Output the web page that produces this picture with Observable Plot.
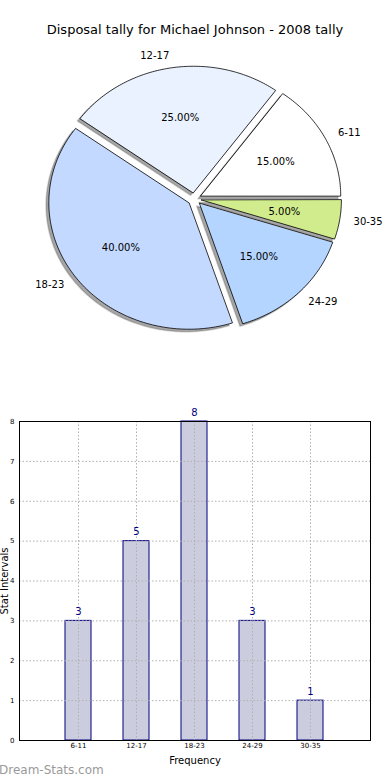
<!DOCTYPE html>
<html><head><meta charset="utf-8">
<script src="https://cdn.jsdelivr.net/npm/d3@7"></script>
<script src="https://cdn.jsdelivr.net/npm/@observablehq/plot@0.6"></script>
<style>
body{margin:0;background:#fff;font-family:"DejaVu Sans",sans-serif;}
#wrap{position:relative;width:390px;height:780px;overflow:hidden;background:#fff;}
#title{position:absolute;left:0;top:21px;width:390px;text-align:center;font-size:13px;line-height:18px;color:#000;}
#pie{position:absolute;left:0;top:0;}
#bar{position:absolute;left:0;top:380px;}
#wm{position:absolute;left:-1px;top:763px;font-size:12px;line-height:14px;color:#9a9a9a;}
svg{overflow:visible;}
</style></head><body>
<div id="wrap">
<div id="pie"></div>
<div id="title">Disposal tally for Michael Johnson - 2008 tally</div>
<div id="bar"></div>
<div id="wm">Dream-Stats.com</div>
</div>
<script>
const categories = ["6-11", "12-17", "18-23", "24-29", "30-35"];
const counts = [3, 5, 8, 3, 1];
const pieColors = ["#ffffff", "#eaf2ff", "#c4d9ff", "#b4d5ff", "#d0ec8c"];
const yTicks = [0, 1, 2, 3, 4, 5, 6, 7, 8];
const explode = 0.05, labelDist = 1.1, pctDist = 0.6, shadowOff = 0.02;

const total = d3.sum(counts);
let acc = 0;
const wedges = categories.map((c, i) => {
  const f = counts[i] / total;
  const a0 = acc * 2 * Math.PI; acc += f; const a1 = acc * 2 * Math.PI;
  const am = (a0 + a1) / 2;
  return {cat: c, frac: f, a0, a1, am, ox: explode * Math.cos(am), oy: explode * Math.sin(am), color: pieColors[i]};
});
const pts = [];
wedges.forEach(w => {
  pts.push({cat: w.cat, color: w.color, x: w.ox, y: w.oy});
  const n = Math.max(2, Math.ceil((w.a1 - w.a0) / (Math.PI / 180)));
  for (let k = 0; k <= n; k++) {
    const a = w.a0 + (w.a1 - w.a0) * k / n;
    pts.push({cat: w.cat, color: w.color, x: w.ox + Math.cos(a), y: w.oy + Math.sin(a)});
  }
});
const labels = wedges.map(w => ({
  cat: w.cat, pct: (w.frac * 100).toFixed(2) + "%",
  lx: w.ox + labelDist * Math.cos(w.am), ly: w.oy + labelDist * Math.sin(w.am),
  px: w.ox + pctDist * Math.cos(w.am), py: w.oy + pctDist * Math.sin(w.am)
}));

const font = {fontFamily: "'DejaVu Sans', sans-serif", background: "transparent", overflow: "visible"};

const pie = Plot.plot({
  width: 390, height: 370, margin: 0, style: font,
  x: {domain: [-1, 1], range: [54, 334], axis: null},
  y: {domain: [-1, 1], range: [325, 72], axis: null},
  color: {type: "identity"},
  marks: [
    Plot.line(pts, {x: d => d.x - shadowOff, y: d => d.y - shadowOff, z: "cat", fill: "#4d4d4d", fillOpacity: 0.5, stroke: "#4d4d4d", strokeOpacity: 0.25, curve: "linear-closed"}),
    Plot.line(pts, {x: "x", y: "y", z: "cat", fill: "color", stroke: "black", strokeWidth: 0.8, curve: "linear-closed"}),
    Plot.text(labels.filter(d => d.lx > 0), {x: "lx", y: "ly", text: "cat", textAnchor: "start", fontSize: 10, fill: "black"}),
    Plot.text(labels.filter(d => d.lx <= 0), {x: "lx", y: "ly", text: "cat", textAnchor: "end", fontSize: 10, fill: "black"}),
    Plot.text(labels, {x: "px", y: "py", text: "pct", fontSize: 10, fill: "black"})
  ]
});
document.getElementById("pie").append(pie);

const barData = categories.map((c, i) => ({cat: c, count: counts[i]}));
const bar = Plot.plot({
  width: 390, height: 400, marginTop: 41, marginBottom: 40, marginLeft: 19, marginRight: 20, style: font,
  x: {type: "band", domain: categories, paddingInner: 0.55, paddingOuter: 0.775, align: 0.5, axis: null},
  y: {domain: [0, 8], axis: null},
  marks: [
    Plot.barY(barData, {x: "cat", y: "count", fill: "#ccccdf", stroke: "#000080", strokeWidth: 1}),
    Plot.ruleY(yTicks, {y: d => d, stroke: "#b0b0b0", strokeDasharray: "1.5,2"}),
    Plot.ruleX(categories, {x: d => d, stroke: "#b0b0b0", strokeDasharray: "1.5,2"}),
    Plot.frame({stroke: "black", strokeWidth: 1}),
    Plot.axisY({ticks: yTicks, tickSize: 0, tickPadding: 5, fontSize: 7, tickFormat: d => d, label: null}),
    Plot.axisX({tickSize: 0, tickPadding: 3, fontSize: 7, label: null}),
    Plot.text(barData, {x: "cat", y: "count", text: d => String(d.count), dy: -9, fill: "#000080", fontSize: 10}),
    Plot.text(["Frequency"], {frameAnchor: "bottom", dy: 20, lineAnchor: "middle", textAnchor: "middle", text: d => d, fontSize: 10, fill: "black"}),
    Plot.text(["Stat Intervals"], {frameAnchor: "left", dx: -15, rotate: -90, textAnchor: "middle", lineAnchor: "middle", text: d => d, fontSize: 10, fill: "black"})
  ]
});
document.getElementById("bar").append(bar);
</script>
</body></html>
